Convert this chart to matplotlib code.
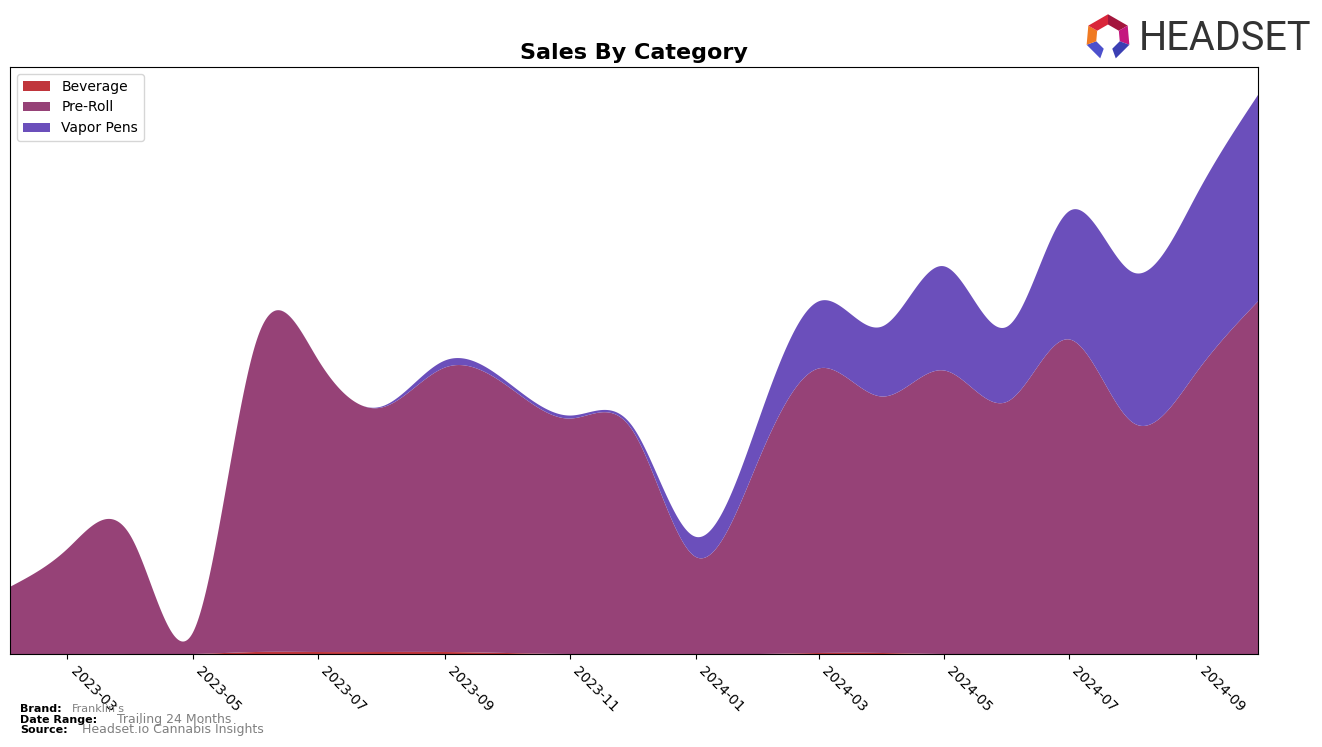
import numpy as np
import pandas as pd
import matplotlib
matplotlib.use("Agg")
import matplotlib.pyplot as plt
import matplotlib.dates as mdates
from matplotlib.patches import Polygon

# ---- data (monthly, arbitrary units) ----
months = pd.date_range("2023-02-01", "2024-10-01", freq="MS")
beverage = [0, 0, 0, 0, 2, 2, 2, 2, 1, 0, 0, 0, 0, 1, 1, 0, 0, 0, 0, 0, 0]
pre_roll = [67, 105, 117, 21, 310, 292, 244, 284, 267, 235, 224, 97,
            195, 284, 256, 283, 252, 314, 231, 281, 352]
vapor_pens = [0, 0, 0, 0, 0, 0, 1, 7, 4, 3, 4, 20,
              40, 67, 70, 104, 75, 128, 150, 177, 206]
categories = ["Beverage", "Pre-Roll", "Vapor Pens"]
colors = ["#c0353b", "#964277", "#6b4fbb"]
tick_months = pd.date_range("2023-03-01", "2024-09-01", freq="2MS")

# ---- natural cubic spline for rendering ----
xm = mdates.date2num(months)
xd = np.linspace(xm[0], xm[-1], 1500)

def spline(xk, yk, xq):
    xk = np.asarray(xk, float)
    yk = np.asarray(yk, float)
    n = len(xk)
    h = np.diff(xk)
    A = np.zeros((n, n))
    b = np.zeros(n)
    A[0, 0] = 1.0
    A[-1, -1] = 1.0
    for i in range(1, n - 1):
        A[i, i - 1] = h[i - 1]
        A[i, i] = 2 * (h[i - 1] + h[i])
        A[i, i + 1] = h[i]
        b[i] = 6 * ((yk[i + 1] - yk[i]) / h[i] - (yk[i] - yk[i - 1]) / h[i - 1])
    M = np.linalg.solve(A, b)
    idx = np.clip(np.searchsorted(xk, xq) - 1, 0, n - 2)
    x0, x1 = xk[idx], xk[idx + 1]
    hh = x1 - x0
    return (M[idx] * (x1 - xq) ** 3 / (6 * hh) + M[idx + 1] * (xq - x0) ** 3 / (6 * hh)
            + (yk[idx] / hh - M[idx] * hh / 6) * (x1 - xq)
            + (yk[idx + 1] / hh - M[idx + 1] * hh / 6) * (xq - x0))

series = [np.clip(spline(xm, s, xd), 0, None) for s in (beverage, pre_roll, vapor_pens)]

fig = plt.figure(figsize=(13.22, 7.47), dpi=100)
ax = fig.add_axes([10 / 1322, 93 / 747, 1248 / 1322, 587 / 747])
ax.stackplot(xd, *series, colors=colors, labels=categories)
total = np.sum(series, axis=0)
ax.set_xlim(xm[0], xm[-1])
ax.set_ylim(0, total.max() * 1.05)
ax.set_yticks([])
ax.xaxis_date()
ax.set_xticks(mdates.date2num(tick_months))
ax.xaxis.set_major_formatter(mdates.DateFormatter("%Y-%m"))
for lab in ax.get_xticklabels():
    lab.set_rotation(-45)
    lab.set_ha("left")
    lab.set_fontsize(10)
ax.set_title("Sales By Category", fontsize=16, fontweight="bold", pad=6)
ax.legend(loc="upper left", fontsize=10, frameon=True)

# ---- footer ----
fig.text(20 / 1322, 1 - 709 / 747, "Brand:", fontsize=8, fontweight="bold", va="center")
fig.text(72 / 1322, 1 - 709 / 747, "Franklin's", fontsize=8, color="grey", va="center")
fig.text(20 / 1322, 1 - 720 / 747, "Date Range:", fontsize=8, fontweight="bold", va="center")
fig.text(117 / 1322, 1 - 720 / 747, "Trailing 24 Months", fontsize=9, color="grey", va="center")
fig.text(20 / 1322, 1 - 730 / 747, "Source:", fontsize=8, fontweight="bold", va="center")
fig.text(82 / 1322, 1 - 730 / 747, "Headset.io Cannabis Insights", fontsize=9, color="grey", va="center")

# ---- logo ----
fig.text(1139 / 1322, 1 - 39 / 747, "HEADSET", fontsize=28.5, color="#333333",
         family=["Roboto", "DejaVu Sans"], va="center", ha="left")
lax = fig.add_axes([1083 / 1322, 1 - 62 / 747, 50 / 1322, 50 / 747])
lax.set_xlim(-1.1, 1.1)
lax.set_ylim(-1.1, 1.1)
lax.axis("off")
angs = np.deg2rad([90, 30, -20, -70, -110, -160, 150, 90])
ro, ri = 1.0, 0.55
seg_cols = ["#a3163d", "#c4187f", "#3b3fb3", None, "#4c50cc", "#f07a22", "#d9263a"]
for i in range(len(angs) - 1):
    c = seg_cols[i]
    if c is None:
        continue
    a0, a1 = angs[i], angs[i + 1]
    pts = [(ro * np.cos(a0), ro * np.sin(a0)), (ro * np.cos(a1), ro * np.sin(a1)),
           (ri * np.cos(a1), ri * np.sin(a1)), (ri * np.cos(a0), ri * np.sin(a0))]
    lax.add_patch(Polygon(pts, closed=True, color=c, lw=0))

fig.savefig("out.png", dpi=100)
